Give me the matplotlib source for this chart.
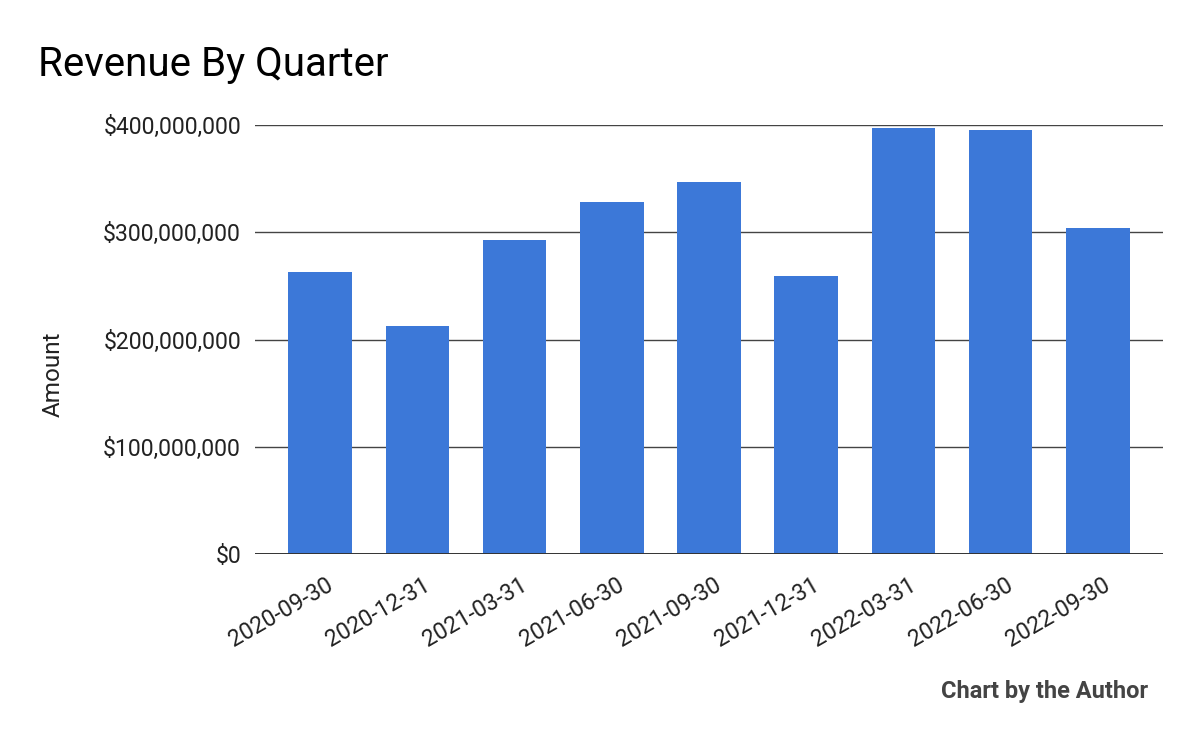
import matplotlib
matplotlib.use("Agg")
import matplotlib.pyplot as plt
from matplotlib.ticker import FuncFormatter
from matplotlib.transforms import ScaledTranslation

quarters = ["2020-09-30", "2020-12-31", "2021-03-31", "2021-06-30", "2021-09-30",
            "2021-12-31", "2022-03-31", "2022-06-30", "2022-09-30"]
revenue = [263_000_000, 212_600_000, 292_800_000, 328_200_000, 346_900_000,
           259_200_000, 397_200_000, 395_300_000, 304_000_000]
y_ticks = [0, 100_000_000, 200_000_000, 300_000_000, 400_000_000]

plt.rcParams['font.family'] = ['Roboto', 'DejaVu Sans']

W, H = 1200, 742
fig = plt.figure(figsize=(W / 100, H / 100), dpi=100)
ax = fig.add_axes([255 / W, 1 - 554.3 / H, (1163 - 255) / W, (554.3 - 125) / H])

x = list(range(len(quarters)))
ax.bar(x, revenue, width=0.655, color="#3c78d8", zorder=3)

ax.set_xlim(-0.67, len(quarters) - 1 + 0.67)
ax.set_ylim(0, 400_000_000)
ax.set_yticks(y_ticks)
ax.yaxis.set_major_formatter(FuncFormatter(lambda v, p: "${:,.0f}".format(v)))
ax.grid(axis="y", color="#444444", linewidth=1.0, zorder=1)
ax.axhline(0, color="#333333", linewidth=1.4, zorder=4)

for s in ax.spines.values():
    s.set_visible(False)
ax.tick_params(axis="both", length=0, labelsize=16.6, colors="#222222")
ax.tick_params(axis="y", pad=10)
ax.tick_params(axis="x", pad=14)
ax.set_xticks(x)
ax.set_xticklabels(quarters, rotation=30, ha="right", rotation_mode="anchor")
off = ScaledTranslation(5 / 100, 0, fig.dpi_scale_trans)
for lbl in ax.get_xticklabels():
    lbl.set_transform(lbl.get_transform() + off)

fig.text(53.5 / W, 1 - 374.5 / H, "Amount", fontsize=17.5, color="#222222",
         rotation=90, ha="center", va="center")

fig.text(38 / W, 1 - 76 / H, "Revenue By Quarter", fontsize=29, color="#000000",
         ha="left", va="baseline")
fig.text(1148 / W, 1 - 698 / H, "Chart by the Author", fontsize=17, fontweight="bold",
         color="#444444", ha="right", va="baseline")

fig.savefig("out.png", dpi=100, facecolor="white")
